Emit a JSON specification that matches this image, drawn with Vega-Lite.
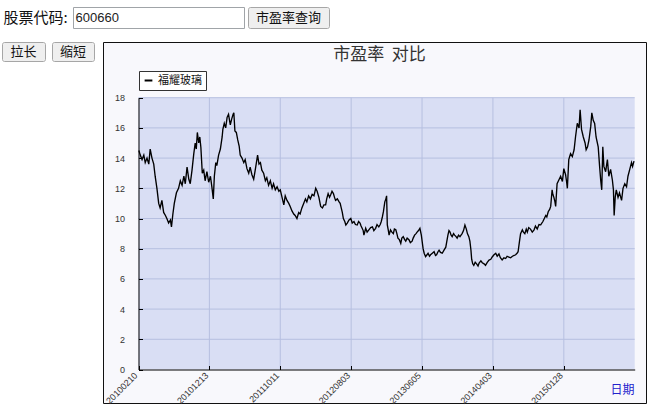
{
  "$schema": "https://vega.github.io/schema/vega-lite/v6.json",
  "background": "white",
  "padding": {"left": 1, "top": 6, "right": 0, "bottom": 0},
  "config": {"view": {"stroke": null}, "font": "Noto Sans CJK SC"},
  "spacing": 12,
  "vconcat": [
    {
      "hconcat": [
        {
          "width": 67, "height": 21,
          "data": {"values": [{"t": "股票代码:"}]},
          "mark": {"type": "text", "fontSize": 15, "color": "#111", "font": "Noto Sans CJK SC"},
          "encoding": {"text": {"field": "t"}}
        },
        {
          "width": 171, "height": 21,
          "view": {"fill": "#ffffff", "stroke": "#a0a4a8", "strokeWidth": 1},
          "data": {"values": [{"t": "600660"}]},
          "mark": {"type": "text", "fontSize": 13, "color": "#222", "font": "Liberation Sans", "align": "left", "dx": -83},
          "encoding": {"text": {"field": "t"}}
        },
        {
          "width": 81, "height": 21,
          "view": {"fill": "#efefef", "stroke": "#a6a6a6", "strokeWidth": 1, "cornerRadius": 2},
          "data": {"values": [{"t": "市盈率查询"}]},
          "mark": {"type": "text", "fontSize": 13, "color": "#111", "font": "Noto Sans CJK SC"},
          "encoding": {"text": {"field": "t"}}
        }
      ],
      "spacing": 4,
      "bounds": "flush"
    },
    {
      "hconcat": [
        {
          "hconcat": [
            {
              "width": 43, "height": 19,
              "view": {"fill": "#efefef", "stroke": "#a6a6a6", "strokeWidth": 1, "cornerRadius": 2},
              "data": {"values": [{"t": "拉长"}]},
              "mark": {"type": "text", "fontSize": 13, "color": "#111", "font": "Noto Sans CJK SC"},
              "encoding": {"text": {"field": "t"}}
            },
            {
              "width": 42, "height": 19,
              "view": {"fill": "#efefef", "stroke": "#a6a6a6", "strokeWidth": 1, "cornerRadius": 2},
              "data": {"values": [{"t": "缩短"}]},
              "mark": {"type": "text", "fontSize": 13, "color": "#111", "font": "Noto Sans CJK SC"},
              "encoding": {"text": {"field": "t"}}
            }
          ],
          "spacing": 7,
          "bounds": "flush"
        },
        {
          "width": 543,
          "height": 361,
          "view": {"fill": "#f8f8fc", "stroke": "#111111", "strokeWidth": 1},
          "title": {"text": "市盈率\u00a0\u00a0对比", "offset": -22, "fontSize": 17, "font": "Noto Sans CJK SC", "fontWeight": "normal", "color": "#333333", "dx": 5, "anchor": "middle", "frame": "group"},
          "layer": [
            {
              "data": {"values": [{"a": 0}]},
              "mark": {"type": "rect", "color": "#d9def4"},
              "encoding": {
                "x": {"datum": 0, "type": "quantitative", "scale": {"domain": [0, 1400], "range": [35.5, 531.7], "nice": false, "zero": false}},
                "x2": {"datum": 1400},
                "y": {"datum": 0, "type": "quantitative", "scale": {"domain": [0, 18], "range": [327.5, 55.7], "nice": false}},
                "y2": {"datum": 18}
              }
            },
            {
              "data": {"values": [{"v": 2}, {"v": 4}, {"v": 6}, {"v": 8}, {"v": 10}, {"v": 12}, {"v": 14}, {"v": 16}, {"v": 18}]},
              "mark": {"type": "rule", "color": "#b6bfe0", "strokeWidth": 1},
              "encoding": {
                "x": {"datum": 0, "type": "quantitative"},
                "x2": {"datum": 1400},
                "y": {"field": "v", "type": "quantitative"}
              }
            },
            {
              "data": {"values": [{"v": 200}, {"v": 400}, {"v": 600}, {"v": 800}, {"v": 1000}, {"v": 1200}]},
              "mark": {"type": "rule", "color": "#b6bfe0", "strokeWidth": 1},
              "encoding": {
                "x": {"field": "v", "type": "quantitative"},
                "y": {"datum": 0, "type": "quantitative"},
                "y2": {"datum": 18}
              }
            },
            {
              "data": {"values": [
{"d":1,"pe":14.5},{"d":5,"pe":14.2},{"d":10,"pe":13.9},{"d":15,"pe":14.2},{"d":19,"pe":13.7},{"d":24,"pe":14.0},{"d":29,"pe":13.6},{"d":33,"pe":14.6},{"d":38,"pe":14.0},{"d":43,"pe":13.6},{"d":47,"pe":12.8},{"d":52,"pe":12.0},{"d":57,"pe":11.0},{"d":61,"pe":10.7},{"d":66,"pe":11.2},{"d":71,"pe":10.4},{"d":76,"pe":10.2},{"d":80,"pe":10.0},{"d":85,"pe":9.7},{"d":90,"pe":9.9},{"d":93,"pe":9.45},{"d":97,"pe":10.3},{"d":101,"pe":11.0},{"d":107,"pe":11.7},{"d":113,"pe":12.0},{"d":118,"pe":12.5},{"d":123,"pe":12.2},{"d":128,"pe":12.8},{"d":132,"pe":12.3},{"d":137,"pe":13.4},{"d":142,"pe":12.6},{"d":146,"pe":12.3},{"d":151,"pe":13.2},{"d":156,"pe":14.3},{"d":160,"pe":15.0},{"d":163,"pe":14.6},{"d":166,"pe":15.7},{"d":170,"pe":15.0},{"d":173,"pe":15.4},{"d":176,"pe":14.7},{"d":180,"pe":13.0},{"d":184,"pe":13.2},{"d":188,"pe":12.5},{"d":193,"pe":13.1},{"d":198,"pe":12.4},{"d":203,"pe":12.8},{"d":207,"pe":12.1},{"d":211,"pe":11.3},{"d":214,"pe":12.8},{"d":218,"pe":13.7},{"d":221,"pe":13.5},{"d":226,"pe":14.2},{"d":231,"pe":14.6},{"d":236,"pe":15.4},{"d":238,"pe":15.9},{"d":242,"pe":16.3},{"d":246,"pe":16.0},{"d":250,"pe":16.7},{"d":254,"pe":16.9},{"d":259,"pe":16.2},{"d":263,"pe":16.6},{"d":267,"pe":16.9},{"d":269,"pe":17.0},{"d":272,"pe":15.8},{"d":276,"pe":15.7},{"d":280,"pe":15.2},{"d":284,"pe":14.8},{"d":287,"pe":14.2},{"d":292,"pe":14.0},{"d":297,"pe":13.7},{"d":301,"pe":13.9},{"d":306,"pe":13.3},{"d":311,"pe":13.0},{"d":315,"pe":13.4},{"d":320,"pe":12.9},{"d":325,"pe":12.6},{"d":330,"pe":13.3},{"d":336,"pe":14.2},{"d":340,"pe":13.6},{"d":344,"pe":13.7},{"d":348,"pe":13.2},{"d":353,"pe":13.0},{"d":358,"pe":12.5},{"d":362,"pe":12.7},{"d":367,"pe":12.2},{"d":372,"pe":12.5},{"d":377,"pe":12.0},{"d":381,"pe":12.3},{"d":386,"pe":11.9},{"d":391,"pe":12.1},{"d":396,"pe":11.8},{"d":400,"pe":11.9},{"d":405,"pe":11.4},{"d":410,"pe":10.9},{"d":414,"pe":11.5},{"d":419,"pe":11.2},{"d":424,"pe":11.0},{"d":428,"pe":10.8},{"d":433,"pe":10.5},{"d":438,"pe":10.3},{"d":442,"pe":10.2},{"d":447,"pe":10.0},{"d":452,"pe":10.4},{"d":456,"pe":10.3},{"d":461,"pe":10.7},{"d":466,"pe":11.0},{"d":471,"pe":11.3},{"d":475,"pe":11.1},{"d":480,"pe":11.5},{"d":485,"pe":11.3},{"d":490,"pe":11.6},{"d":495,"pe":11.5},{"d":500,"pe":12.0},{"d":504,"pe":11.8},{"d":509,"pe":11.4},{"d":514,"pe":10.8},{"d":519,"pe":10.7},{"d":523,"pe":10.9},{"d":528,"pe":10.9},{"d":531,"pe":11.3},{"d":535,"pe":11.65},{"d":539,"pe":11.4},{"d":542,"pe":11.55},{"d":546,"pe":11.8},{"d":550,"pe":11.65},{"d":553,"pe":11.4},{"d":556,"pe":11.2},{"d":561,"pe":11.3},{"d":566,"pe":11.1},{"d":569,"pe":11.0},{"d":572,"pe":10.7},{"d":575,"pe":10.4},{"d":578,"pe":10.0},{"d":582,"pe":9.8},{"d":585,"pe":9.57},{"d":589,"pe":9.7},{"d":594,"pe":9.9},{"d":599,"pe":10.0},{"d":603,"pe":9.7},{"d":608,"pe":9.8},{"d":612,"pe":9.6},{"d":617,"pe":9.57},{"d":621,"pe":9.8},{"d":625,"pe":9.7},{"d":628,"pe":9.5},{"d":631,"pe":9.35},{"d":634,"pe":9.2},{"d":636,"pe":8.9},{"d":641,"pe":9.35},{"d":645,"pe":9.1},{"d":650,"pe":9.25},{"d":655,"pe":9.4},{"d":660,"pe":9.45},{"d":664,"pe":9.2},{"d":669,"pe":9.35},{"d":673,"pe":9.6},{"d":678,"pe":9.45},{"d":682,"pe":9.6},{"d":685,"pe":9.8},{"d":688,"pe":10.1},{"d":691,"pe":10.45},{"d":695,"pe":11.1},{"d":698,"pe":11.3},{"d":700,"pe":11.5},{"d":702,"pe":9.57},{"d":705,"pe":9.2},{"d":707,"pe":8.9},{"d":711,"pe":9.25},{"d":715,"pe":9.1},{"d":719,"pe":9.0},{"d":722,"pe":9.3},{"d":726,"pe":9.25},{"d":729,"pe":9.0},{"d":732,"pe":8.7},{"d":736,"pe":8.6},{"d":740,"pe":8.35},{"d":743,"pe":8.7},{"d":747,"pe":8.8},{"d":751,"pe":8.6},{"d":754,"pe":8.5},{"d":758,"pe":8.7},{"d":763,"pe":8.6},{"d":767,"pe":8.4},{"d":772,"pe":8.5},{"d":775,"pe":8.7},{"d":779,"pe":8.9},{"d":783,"pe":9.0},{"d":786,"pe":9.1},{"d":790,"pe":9.2},{"d":794,"pe":9.35},{"d":798,"pe":8.9},{"d":803,"pe":8.0},{"d":806,"pe":7.7},{"d":810,"pe":7.47},{"d":814,"pe":7.6},{"d":817,"pe":7.7},{"d":821,"pe":7.5},{"d":824,"pe":7.6},{"d":829,"pe":7.7},{"d":834,"pe":7.8},{"d":838,"pe":7.55},{"d":841,"pe":7.6},{"d":845,"pe":7.8},{"d":848,"pe":7.9},{"d":852,"pe":7.75},{"d":857,"pe":7.7},{"d":862,"pe":7.9},{"d":867,"pe":8.1},{"d":870,"pe":8.5},{"d":873,"pe":8.9},{"d":876,"pe":9.2},{"d":879,"pe":9.1},{"d":882,"pe":8.9},{"d":885,"pe":8.8},{"d":889,"pe":9.0},{"d":892,"pe":8.9},{"d":896,"pe":8.8},{"d":899,"pe":8.7},{"d":903,"pe":8.9},{"d":907,"pe":8.8},{"d":910,"pe":8.9},{"d":913,"pe":9.0},{"d":917,"pe":9.2},{"d":921,"pe":9.57},{"d":925,"pe":9.3},{"d":928,"pe":9.0},{"d":932,"pe":8.8},{"d":935,"pe":8.5},{"d":938,"pe":7.9},{"d":940,"pe":7.3},{"d":943,"pe":7.0},{"d":946,"pe":6.9},{"d":950,"pe":7.1},{"d":954,"pe":7.0},{"d":958,"pe":6.85},{"d":961,"pe":7.05},{"d":966,"pe":7.2},{"d":970,"pe":7.07},{"d":975,"pe":7.0},{"d":979,"pe":6.9},{"d":984,"pe":7.1},{"d":989,"pe":7.25},{"d":994,"pe":7.3},{"d":998,"pe":7.45},{"d":1003,"pe":7.6},{"d":1008,"pe":7.7},{"d":1012,"pe":7.5},{"d":1017,"pe":7.65},{"d":1021,"pe":7.4},{"d":1026,"pe":7.25},{"d":1031,"pe":7.4},{"d":1036,"pe":7.35},{"d":1040,"pe":7.5},{"d":1045,"pe":7.45},{"d":1050,"pe":7.4},{"d":1055,"pe":7.5},{"d":1060,"pe":7.55},{"d":1064,"pe":7.6},{"d":1068,"pe":7.7},{"d":1071,"pe":7.8},{"d":1075,"pe":8.5},{"d":1078,"pe":9.0},{"d":1083,"pe":9.25},{"d":1086,"pe":9.1},{"d":1090,"pe":9.0},{"d":1094,"pe":9.3},{"d":1097,"pe":9.1},{"d":1101,"pe":9.4},{"d":1106,"pe":9.3},{"d":1111,"pe":9.1},{"d":1116,"pe":9.25},{"d":1120,"pe":9.5},{"d":1125,"pe":9.3},{"d":1130,"pe":9.6},{"d":1135,"pe":9.58},{"d":1138,"pe":9.7},{"d":1141,"pe":9.8},{"d":1145,"pe":10.0},{"d":1149,"pe":10.2},{"d":1152,"pe":10.1},{"d":1156,"pe":10.45},{"d":1160,"pe":10.6},{"d":1163,"pe":10.8},{"d":1167,"pe":11.9},{"d":1169,"pe":11.6},{"d":1172,"pe":11.4},{"d":1175,"pe":11.1},{"d":1177,"pe":10.8},{"d":1181,"pe":12.3},{"d":1186,"pe":12.55},{"d":1191,"pe":12.8},{"d":1196,"pe":12.45},{"d":1200,"pe":13.3},{"d":1205,"pe":12.9},{"d":1208,"pe":12.4},{"d":1210,"pe":12.0},{"d":1214,"pe":13.9},{"d":1219,"pe":14.3},{"d":1224,"pe":14.1},{"d":1229,"pe":14.55},{"d":1233,"pe":15.4},{"d":1238,"pe":16.3},{"d":1243,"pe":16.0},{"d":1246,"pe":17.2},{"d":1250,"pe":15.9},{"d":1255,"pe":15.4},{"d":1260,"pe":15.0},{"d":1263,"pe":14.55},{"d":1267,"pe":14.75},{"d":1271,"pe":15.2},{"d":1276,"pe":16.1},{"d":1279,"pe":17.0},{"d":1283,"pe":16.5},{"d":1287,"pe":16.3},{"d":1291,"pe":15.4},{"d":1297,"pe":14.75},{"d":1301,"pe":13.45},{"d":1304,"pe":12.55},{"d":1307,"pe":11.9},{"d":1310,"pe":14.75},{"d":1313,"pe":13.45},{"d":1318,"pe":13.1},{"d":1323,"pe":13.9},{"d":1327,"pe":12.8},{"d":1332,"pe":13.25},{"d":1337,"pe":12.55},{"d":1340,"pe":11.9},{"d":1342,"pe":10.2},{"d":1345,"pe":11.4},{"d":1348,"pe":11.9},{"d":1353,"pe":11.4},{"d":1357,"pe":11.7},{"d":1363,"pe":11.2},{"d":1367,"pe":12.0},{"d":1372,"pe":12.3},{"d":1377,"pe":12.1},{"d":1381,"pe":12.8},{"d":1386,"pe":13.25},{"d":1391,"pe":13.7},{"d":1394,"pe":13.45},{"d":1398,"pe":13.8}
              ]},
              "mark": {"type": "line", "strokeWidth": 1.35},
              "encoding": {
                "x": {
                  "field": "d", "type": "quantitative",
                  "axis": {
                    "zindex": 2,
                    "values": [0, 200, 400, 600, 800, 1000, 1200],
                    "labelExpr": "datum.value==0?'20100210':datum.value==200?'20101213':datum.value==400?'20111011':datum.value==600?'20120803':datum.value==800?'20130605':datum.value==1000?'20140403':'20150128'",
                    "labelAngle": -45,
                    "labelAlign": "right",
                    "labelBaseline": "middle",
                    "labelFont": "Liberation Sans",
                    "labelFontSize": 9,
                    "labelColor": "#333333",
                    "labelPadding": 8,
                    "labelOffset": -3,
                    "labelOverlap": false,
                    "labelFlush": false,
                    "tickSize": -4,
                    "tickColor": "#000000",
                    "domainColor": "#000000",
                    "grid": false,
                    "offset": -33.5,
                    "title": "日期",
                    "titleColor": "#2222cc",
                    "titleFont": "Noto Sans CJK SC",
                    "titleFontSize": 12,
                    "titleFontWeight": "normal",
                    "titleX": 519,
                    "titleY": 20,
                    "titleAlign": "center",
                    "titleBaseline": "middle"
                  }
                },
                "y": {
                  "field": "pe", "type": "quantitative",
                  "axis": {
                    "zindex": 2,
                    "values": [0, 1, 2, 3, 4, 5, 6, 7, 8, 9, 10, 11, 12, 13, 14, 15, 16, 17, 18],
                    "labelExpr": "datum.value % 2 == 0 ? datum.label : ''",
                    "labelOverlap": false,
                    "labelFont": "Liberation Sans",
                    "labelFontSize": 9,
                    "labelColor": "#333333",
                    "labelPadding": 18,
                    "tickSize": -4,
                    "tickColor": "#000000",
                    "domainColor": "#000000",
                    "grid": false,
                    "offset": -35.5,
                    "title": null
                  }
                },
                "color": {
                  "datum": "福耀玻璃",
                  "scale": {"range": ["#000000"]},
                  "legend": {
                    "orient": "none",
                    "legendX": 137,
                    "legendY": 64,
                    "title": null,
                    "strokeColor": "#333333",
                    "fillColor": "#ffffff",
                    "padding": 4,
                    "symbolType": "stroke",
                    "symbolStrokeWidth": 2,
                    "symbolSize": 60,
                    "labelFont": "Noto Sans CJK SC",
                    "labelFontSize": 11,
                    "labelColor": "#111111",
                    "cornerRadius": 0
                  }
                }
              }
            }
          ]
        }
      ],
      "spacing": 7
    }
  ]
}
